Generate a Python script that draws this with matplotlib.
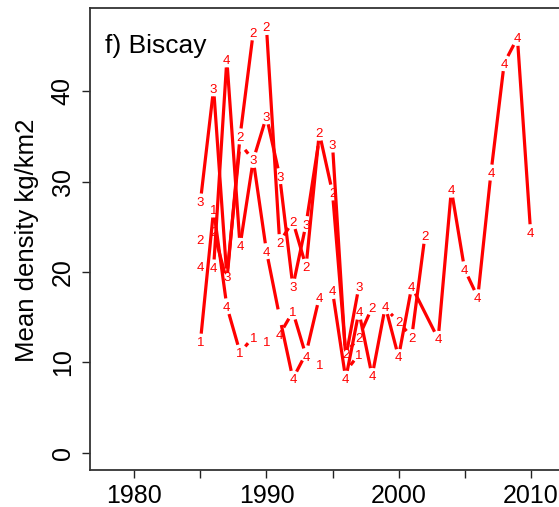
import numpy as np
import matplotlib
matplotlib.use("Agg")
import matplotlib.pyplot as plt

plt.rcParams['font.family'] = ['Liberation Sans', 'DejaVu Sans']
nan = np.nan

# ---- data ----
q1_years = [1985, 1986, 1987, 1988, 1989, 1990, 1991, 1992, 1993, 1994, 1995, 1996, 1997]
q1_vals = [12.3, 26.9, 16.2, 11.1, 12.8, 12.3, 13.1, 15.6, 10.7, 9.8, nan, 9.0, 10.9]
q1_labels = ['1', '1', '4', '1', '1', '1', '4', '1', '4', '1', '', '', '1']

q2_years = [1985, 1986, 1987, 1988, 1989, 1990, 1991, 1992, 1993, 1994, 1995, 1996,
            1997, 1998, 1999, 2000, 2001, 2002]
q2_vals = [23.6, 24.5, 19.0, 35.0, 46.5, 47.1, 23.3, 25.6, 20.6, 35.4, 28.8, 11.0,
           12.8, 16.1, 16.0, 14.5, 12.8, 24.0]
q2_labels = ['2', '2', '', '2', '2', '2', '2', '2', '2', '2', '2', '2',
             '2', '2', '', '2', '2', '2']

q3_years = [1985, 1986, 1987, 1988, 1989, 1990, 1991, 1992, 1993, 1994, 1995, 1996, 1997]
q3_vals = [27.8, 40.3, 19.5, 34.2, 32.4, 37.2, 30.6, 18.4, 25.3, 34.8, 34.1, 10.5, 18.4]
q3_labels = ['3', '3', '3', '', '3', '3', '3', '3', '3', '', '3', '', '3']

q4_years = [1985, 1986, 1987, 1988, 1989, 1990, 1991, 1992, 1993, 1994, 1995, 1996,
            1997, 1998, 1999, 2000, 2001, 2003, 2004, 2005, 2006, 2007, 2008, 2009, 2010]
q4_vals = [20.6, 20.5, 43.5, 22.9, 32.4, 22.3, 15.0, 8.2, 11.0, 17.2, 17.9, 8.2,
           15.6, 8.5, 16.2, 10.6, 18.4, 12.6, 29.1, 20.3, 17.2, 31.0, 43.1, 45.9, 24.4]
q4_labels = ['4', '4', '4', '4', '', '4', '', '4', '', '4', '4', '4',
             '4', '4', '4', '4', '4', '4', '4', '4', '4', '4', '4', '4', '4']

x_ticks = [1980, 1985, 1990, 1995, 2000, 2005, 2010]
x_ticklabels = ['1980', '', '1990', '', '2000', '', '2010']
y_ticks = [0, 10, 20, 30, 40]
panel_title = 'f) Biscay'
y_title = 'Mean density kg/km2'

# ---- figure ----
W, H = 559, 507
fig = plt.figure(figsize=(W / 100, H / 100), dpi=100)
left_px, right_px, top_px, bottom_px = 90, 575, 8, 470
ax = fig.add_axes([left_px / W, 1 - bottom_px / H,
                   (right_px - left_px) / W, (bottom_px - top_px) / H])
ax.set_xlim(1976.64, 2013.36)
ax.set_ylim(-1.9, 49.2)

RED = '#ff0000'


def draw_series(xs, ys, labels, gap=8.0):
    xs = np.asarray(xs, float)
    ys = np.asarray(ys, float)
    pts = ax.transData.transform(np.column_stack([xs, ys]))
    inv = ax.transData.inverted()
    for i in range(len(xs) - 1):
        p0, p1 = pts[i], pts[i + 1]
        if np.any(np.isnan(p0)) or np.any(np.isnan(p1)):
            continue
        d = p1 - p0
        L = np.hypot(d[0], d[1])
        if L <= 2 * gap:
            continue
        u = d / L
        a = inv.transform(p0 + u * gap)
        b = inv.transform(p1 - u * gap)
        ax.plot([a[0], b[0]], [a[1], b[1]], color=RED, lw=2.3,
                solid_capstyle='butt')
    for x, y, lab in zip(xs, ys, labels):
        if lab and not np.isnan(y):
            ax.text(x, y, lab, color=RED, fontsize=9.5, ha='center',
                    va='center_baseline')


draw_series(q1_years, q1_vals, q1_labels)
draw_series(q2_years, q2_vals, q2_labels)
draw_series(q3_years, q3_vals, q3_labels)
draw_series(q4_years, q4_vals, q4_labels)

ax.set_xticks(x_ticks)
ax.set_xticklabels(x_ticklabels)
ax.set_yticks(y_ticks)
ax.set_yticklabels([str(v) for v in y_ticks], rotation=90, va='center')
ax.tick_params(axis='both', direction='out', length=6, width=1.0,
               labelsize=18, colors='#222222', labelcolor='black')
ax.tick_params(axis='x', pad=4)
ax.tick_params(axis='y', pad=5)
for s in ax.spines.values():
    s.set_linewidth(1.3)
    s.set_color('#333333')

ax.text((105 - left_px) / (right_px - left_px), (bottom_px - 53) / (bottom_px - top_px),
        panel_title, transform=ax.transAxes, fontsize=19, ha='left',
        va='baseline', color='black')
fig.text(27 / W, 1 - 240 / H, y_title, rotation=90, fontsize=18.5,
         ha='center', va='center')

fig.savefig('out.png', dpi=100)
